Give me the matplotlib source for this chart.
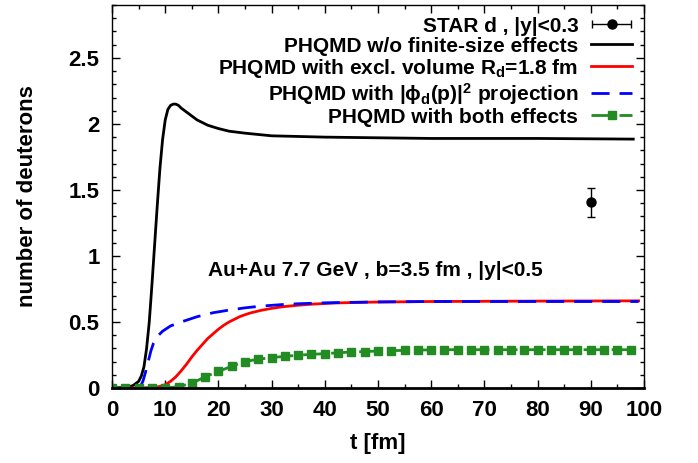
import numpy as np
import matplotlib
matplotlib.use('Agg')
import matplotlib.pyplot as plt
from matplotlib.ticker import MultipleLocator
from matplotlib.container import ErrorbarContainer
from matplotlib.legend_handler import HandlerErrorbar

plt.rcParams['font.family'] = ['Liberation Sans', 'DejaVu Sans']
plt.rcParams['font.weight'] = 'bold'
plt.rcParams['mathtext.fontset'] = 'custom'
plt.rcParams['mathtext.rm'] = 'Liberation Sans:bold'
plt.rcParams['mathtext.it'] = 'Liberation Sans:bold'
plt.rcParams['mathtext.bf'] = 'Liberation Sans:bold'

# data
t_black = [0, 3, 4, 5, 5.5, 6, 6.5, 7, 7.5, 8, 8.5, 9, 9.5, 10, 10.5, 11, 11.5, 12, 12.5, 13, 14, 15, 16, 18, 20, 22, 25, 30, 40, 50, 60, 80, 98]
n_black = [0, 0.005, 0.02, 0.05, 0.09, 0.16, 0.3, 0.5, 0.78, 1.08, 1.38, 1.66, 1.88, 2.03, 2.11, 2.14, 2.15, 2.15, 2.14, 2.12, 2.09, 2.06, 2.03, 1.99, 1.965, 1.945, 1.93, 1.91, 1.9, 1.895, 1.89, 1.89, 1.885]

t_red = [0, 6, 8, 9, 10, 11, 12, 13, 14, 15, 16, 17, 18, 19, 20, 21, 22, 23, 24, 25, 26, 28, 30, 32, 35, 38, 42, 46, 50, 60, 80, 99]
n_red = [0, 0, 0.005, 0.012, 0.025, 0.05, 0.085, 0.13, 0.18, 0.235, 0.285, 0.33, 0.375, 0.41, 0.445, 0.475, 0.5, 0.52, 0.54, 0.555, 0.568, 0.588, 0.603, 0.615, 0.627, 0.636, 0.644, 0.648, 0.651, 0.655, 0.658, 0.66]

t_blue = [0, 4.5, 5.3, 5.8, 6.3, 6.8, 7.3, 7.8, 8.5, 9.5, 11, 13, 16, 19, 22, 25, 28, 32, 35, 40, 50, 60, 80, 99]
n_blue = [0, 0, 0.01, 0.05, 0.12, 0.2, 0.28, 0.34, 0.39, 0.43, 0.47, 0.5, 0.54, 0.57, 0.59, 0.607, 0.62, 0.632, 0.638, 0.645, 0.652, 0.655, 0.655, 0.655]

t_green = np.arange(0, 100, 2.5)
n_green = [0, 0, 0, 0, 0, 0.01, 0.035, 0.085, 0.125, 0.165, 0.2, 0.218, 0.23, 0.24, 0.248, 0.255, 0.26, 0.267, 0.272, 0.276,
           0.28, 0.283, 0.285, 0.287, 0.289, 0.29, 0.29, 0.29, 0.29, 0.29, 0.29, 0.29, 0.29, 0.29, 0.29, 0.29, 0.29, 0.29, 0.29, 0.29]

star_t = [90]
star_n = [1.405]
star_err = [0.11]

fig = plt.figure(figsize=(6.98, 4.63), dpi=100)
ax = fig.add_axes([0.1605, 0.162, 0.762, 0.827])

ax.errorbar(star_t, star_n, yerr=star_err, fmt='o', color='black', ms=6.5, lw=1, capsize=3)
l1, = ax.plot(t_black, n_black, color='black', lw=2)
l2, = ax.plot(t_red, n_red, color='red', lw=2)
l3, = ax.plot(t_blue, n_blue, color='blue', lw=2, dashes=(6.5, 3.6))
l4, = ax.plot(t_green, n_green, color='#228b22', lw=2, dashes=(6.5, 3.6), marker='s', ms=5.5)
# legend sample for the data point: horizontal bar with caps, like the original
star_proxy = ax.errorbar([np.nan], [np.nan], xerr=[1], fmt='o', color='black', ms=6.5, lw=1, capsize=3)

ax.text(49.5, 0.89, 'Au+Au 7.7 GeV , b=3.5 fm , |y|<0.5', ha='center', va='center', fontsize=15, fontweight='bold')

ax.set_xlim(0, 100)
ax.set_ylim(0, 2.9)
ax.xaxis.set_major_locator(MultipleLocator(10))
ax.xaxis.set_minor_locator(MultipleLocator(5))
ax.yaxis.set_minor_locator(MultipleLocator(0.1))
ax.set_yticks([0, 0.5, 1, 1.5, 2, 2.5])
ax.set_yticklabels(['0', '0.5', '1', '1.5', '2', '2.5'])
ax.tick_params(which='both', direction='in', top=True, right=True, labelsize=16, width=1)
ax.tick_params(which='major', length=6, pad=9)
ax.tick_params(which='minor', length=3)
for s in ax.spines.values():
    s.set_linewidth(1)
ax.spines['bottom'].set_linewidth(2)
ax.set_xlabel('t [fm]', fontsize=16, fontweight='bold', labelpad=8)
ax.set_ylabel('number of deuterons', fontsize=16, fontweight='bold', labelpad=22)

ax.legend([star_proxy, l1, l2, l3, l4],
          ['STAR d , |y|<0.3', 'PHQMD w/o finite-size effects',
           'PHQMD with excl. volume R$_\\mathregular{d}$=1.8 fm',
           'PHQMD with |$\\phi_\\mathregular{d}$(p)|$^\\mathregular{2}$ projection',
           'PHQMD with both effects'],
          handler_map={ErrorbarContainer: HandlerErrorbar(xerr_size=0.95)},
          loc='upper right', frameon=False, markerfirst=False, fontsize=15, handlelength=2.0,
          labelspacing=0.05, borderaxespad=0.35, handletextpad=0.6, borderpad=0.2)

fig.savefig('out.png', dpi=100)
